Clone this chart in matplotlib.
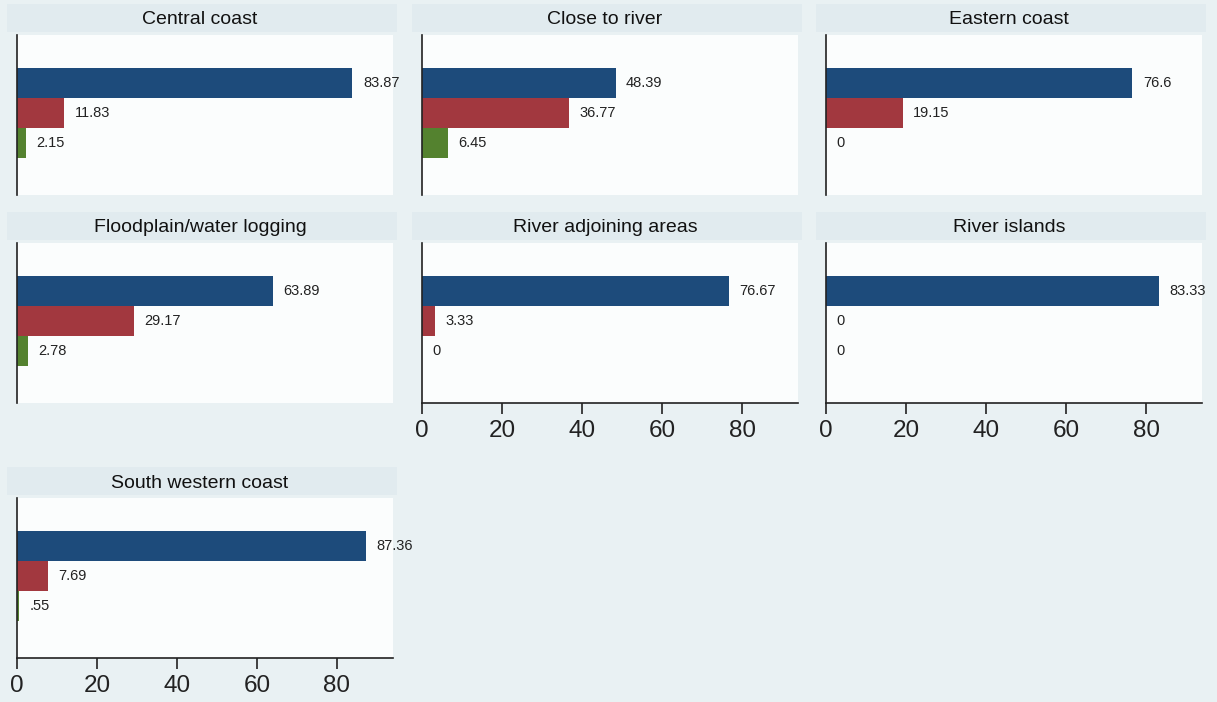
import numpy as np
import matplotlib
matplotlib.use('Agg')
import matplotlib.pyplot as plt
from matplotlib.patches import Rectangle

plt.rcParams['font.family'] = ['Liberation Sans', 'DejaVu Sans']

categories = ['Central coast', 'Close to river', 'Eastern coast',
              'Floodplain/water logging', 'River adjoining areas',
              'River islands', 'South western coast']
series1 = [83.87, 48.39, 76.6, 63.89, 76.67, 83.33, 87.36]
series2 = [11.83, 36.77, 19.15, 29.17, 3.33, 0, 7.69]
series3 = [2.15, 6.45, 0, 2.78, 0, 0, 0.55]
xticks = [0, 20, 40, 60, 80]

colors = ['#1d4b7b', '#a2383f', '#54822f']
BG = '#e9f1f3'

W, H = 1217, 702


def fmt(v):
    s = ('%.2f' % v).rstrip('0').rstrip('.')
    if s.startswith('0.'):
        s = s[1:]
    return s


def px(x, y, w, h):
    # pixel box (top-left origin) -> figure fraction
    return [x / W, 1 - (y + h) / H, w / W, h / H]


fig = plt.figure(figsize=(W / 100, H / 100), dpi=100)
fig.patch.set_facecolor(BG)

col_x = [17, 422, 826]
row_y = [35, 243, 498]
pw, ph = 376, 160

for i, cat in enumerate(categories):
    r, c = divmod(i, 3)
    x0, y0 = col_x[c], row_y[r]

    # title band
    bx, by, bw, bh = px(x0 - 10, y0 - 31, pw + 14, 28)
    fig.patches.append(Rectangle((bx, by), bw, bh, transform=fig.transFigure,
                                 facecolor='#e1ebef', edgecolor='none', zorder=0))
    fig.text((x0 + pw / 2 - 5) / W, 1 - (y0 - 15) / H, cat, ha='center', va='center',
             fontsize=14, color='#111111')

    ax = fig.add_axes(px(x0, y0, pw, ph))
    ax.set_facecolor('#fbfdfd')
    vals = [series1[i], series2[i], series3[i]]
    ax.barh([0, 1, 2], vals, height=1.0, color=colors, edgecolor='none')
    for yy, v in zip([0, 1, 2], vals):
        ax.text(v + 2.6, yy, fmt(v), va='center', ha='left', fontsize=10.5, color='#222222')
    ax.set_xlim(0, 94)
    ax.set_ylim(3.73, -1.6)
    ax.set_yticks([])
    for s in ['top', 'right']:
        ax.spines[s].set_visible(False)
    ax.spines['left'].set_color('#222222')
    ax.spines['left'].set_linewidth(1.2)
    # x axis only on panels without a panel below
    has_axis = i >= 4
    if has_axis:
        ax.spines['bottom'].set_color('#222222')
        ax.spines['bottom'].set_linewidth(1.2)
        ax.set_xticks(xticks)
        ax.tick_params(axis='x', length=8, width=1.2, labelsize=17.5, pad=4, colors='#222222')
    else:
        ax.spines['bottom'].set_visible(False)
        ax.set_xticks([])

fig.savefig('out.png', dpi=100, facecolor=BG)
